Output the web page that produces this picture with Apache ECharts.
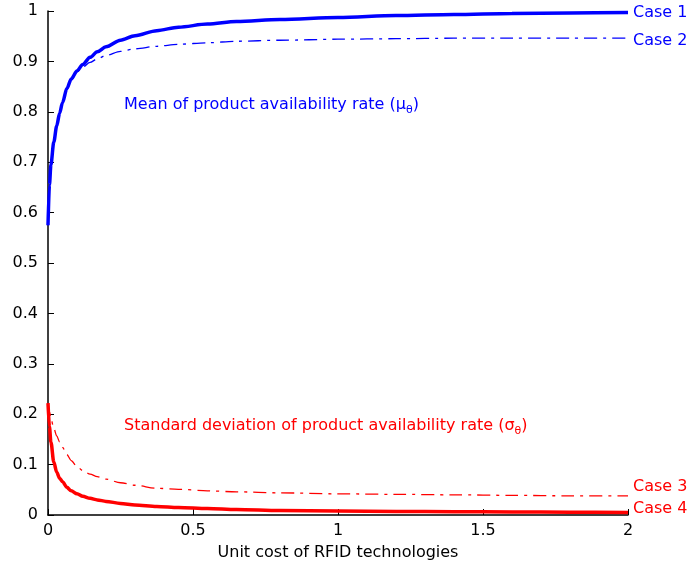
<!DOCTYPE html>
<html>
<head>
<meta charset="utf-8">
<script src="https://cdn.jsdelivr.net/npm/echarts@6/dist/echarts.min.js"></script>
<style>
  html, body { margin: 0; padding: 0; background: #fff; }
  #chart { width: 692px; height: 575px; }
</style>
</head>
<body>
<div id="chart"></div>
<script>
// Unit cost of RFID technologies (x values, denser near zero)
const unitCost = [0, 0.005, 0.01, 0.02, 0.03, 0.04, 0.05, 0.065, 0.08, 0.1, 0.12, 0.145, 0.17, 0.2, 0.25, 0.3, 0.375, 0.45, 0.55, 0.65, 0.8, 1.0, 1.2, 1.4, 1.6, 1.8, 2.0];

// Mean of product availability rate
const case1 = [0.575, 0.655, 0.695, 0.74, 0.772, 0.797, 0.818, 0.846, 0.865, 0.881, 0.894, 0.908, 0.919, 0.929, 0.942, 0.951, 0.961, 0.968, 0.974, 0.979, 0.983, 0.987, 0.991, 0.993, 0.995, 0.996, 0.997];
const case2 = [0.575, 0.655, 0.695, 0.74, 0.772, 0.797, 0.818, 0.845, 0.863, 0.879, 0.889, 0.898, 0.905, 0.912, 0.920, 0.925, 0.930, 0.934, 0.937, 0.940, 0.942, 0.944, 0.945, 0.946, 0.946, 0.946, 0.946];

// Standard deviation of product availability rate
const case3 = [0.222, 0.205, 0.192, 0.172, 0.157, 0.145, 0.134, 0.120, 0.108, 0.096, 0.088, 0.081, 0.076, 0.071, 0.064, 0.059, 0.053, 0.051, 0.048, 0.046, 0.044, 0.042, 0.041, 0.040, 0.039, 0.038, 0.038];
const case4 = [0.222, 0.175, 0.145, 0.105, 0.085, 0.073, 0.066, 0.055, 0.048, 0.042, 0.037, 0.033, 0.030, 0.027, 0.023, 0.020, 0.017, 0.015, 0.013, 0.011, 0.009, 0.008, 0.007, 0.0065, 0.006, 0.0055, 0.005];

const caseNames = ['Case 1', 'Case 2', 'Case 3', 'Case 4'];
const xTicks = { min: 0, max: 2, interval: 0.5 };
const yTicks = { min: 0, max: 1, interval: 0.1 };

const BLUE = '#0000ff';
const RED = '#ff0000';
const FONT = 'DejaVu Sans';
const DASH_DOT = [13, 6, 3, 6];

function pairs(ys) {
  return unitCost.map((x, i) => [x, ys[i]]);
}

function lineSeries(name, ys, color, width, type, offset) {
  return {
    name: name,
    type: 'line',
    data: pairs(ys),
    smooth: 0.3,
    smoothMonotone: 'x',
    showSymbol: false,
    symbol: 'none',
    lineStyle: { color: color, width: width, type: type },
    endLabel: {
      show: true,
      formatter: name,
      color: color,
      fontFamily: FONT,
      fontSize: 16,
      distance: 5,
      offset: offset
    },
    animation: false
  };
}

const chart = echarts.init(document.getElementById('chart'), null, { renderer: 'canvas' });

chart.setOption({
  backgroundColor: '#ffffff',
  animation: false,
  grid: { left: 48, right: 64, top: 11, bottom: 60, containLabel: false },
  xAxis: {
    type: 'value',
    min: xTicks.min, max: xTicks.max, interval: xTicks.interval,
    name: 'Unit cost of RFID technologies',
    nameLocation: 'middle',
    nameGap: 30,
    nameTextStyle: { color: '#000', fontFamily: FONT, fontSize: 16 },
    axisLine: { lineStyle: { color: '#000', width: 1.5 } },
    axisTick: { inside: true, length: 6, lineStyle: { color: '#000' } },
    axisLabel: { color: '#000', fontFamily: FONT, fontSize: 16, margin: 8 },
    splitLine: { show: false }
  },
  yAxis: {
    type: 'value',
    min: yTicks.min, max: yTicks.max, interval: yTicks.interval,
    axisLine: { show: true, lineStyle: { color: '#000', width: 1.5 } },
    axisTick: { show: true, inside: true, length: 6, lineStyle: { color: '#000' } },
    axisLabel: { color: '#000', fontFamily: FONT, fontSize: 16, margin: 10 },
    splitLine: { show: false }
  },
  series: [
    lineSeries(caseNames[1], case2, BLUE, 1.3, DASH_DOT, [0, 3]),
    lineSeries(caseNames[0], case1, BLUE, 3.5, 'solid', [0, 0]),
    lineSeries(caseNames[2], case3, RED, 1.3, DASH_DOT, [0, -9]),
    lineSeries(caseNames[3], case4, RED, 3.5, 'solid', [0, -4])
  ],
  graphic: [
    {
      type: 'text',
      left: 124, top: 97,
      style: {
        text: 'Mean of product availability rate (μ{sub|θ})',
        fill: BLUE,
        font: '16px "DejaVu Sans"',
        rich: { sub: { fontSize: 11, fontFamily: FONT, fill: BLUE, padding: [10, 0, 0, 0] } }
      }
    },
    {
      type: 'text',
      left: 124, top: 418,
      style: {
        text: 'Standard deviation of product availability rate (σ{sub|θ})',
        fill: RED,
        font: '16px "DejaVu Sans"',
        rich: { sub: { fontSize: 11, fontFamily: FONT, fill: RED, padding: [10, 0, 0, 0] } }
      }
    }
  ]
});
</script>
</body>
</html>
